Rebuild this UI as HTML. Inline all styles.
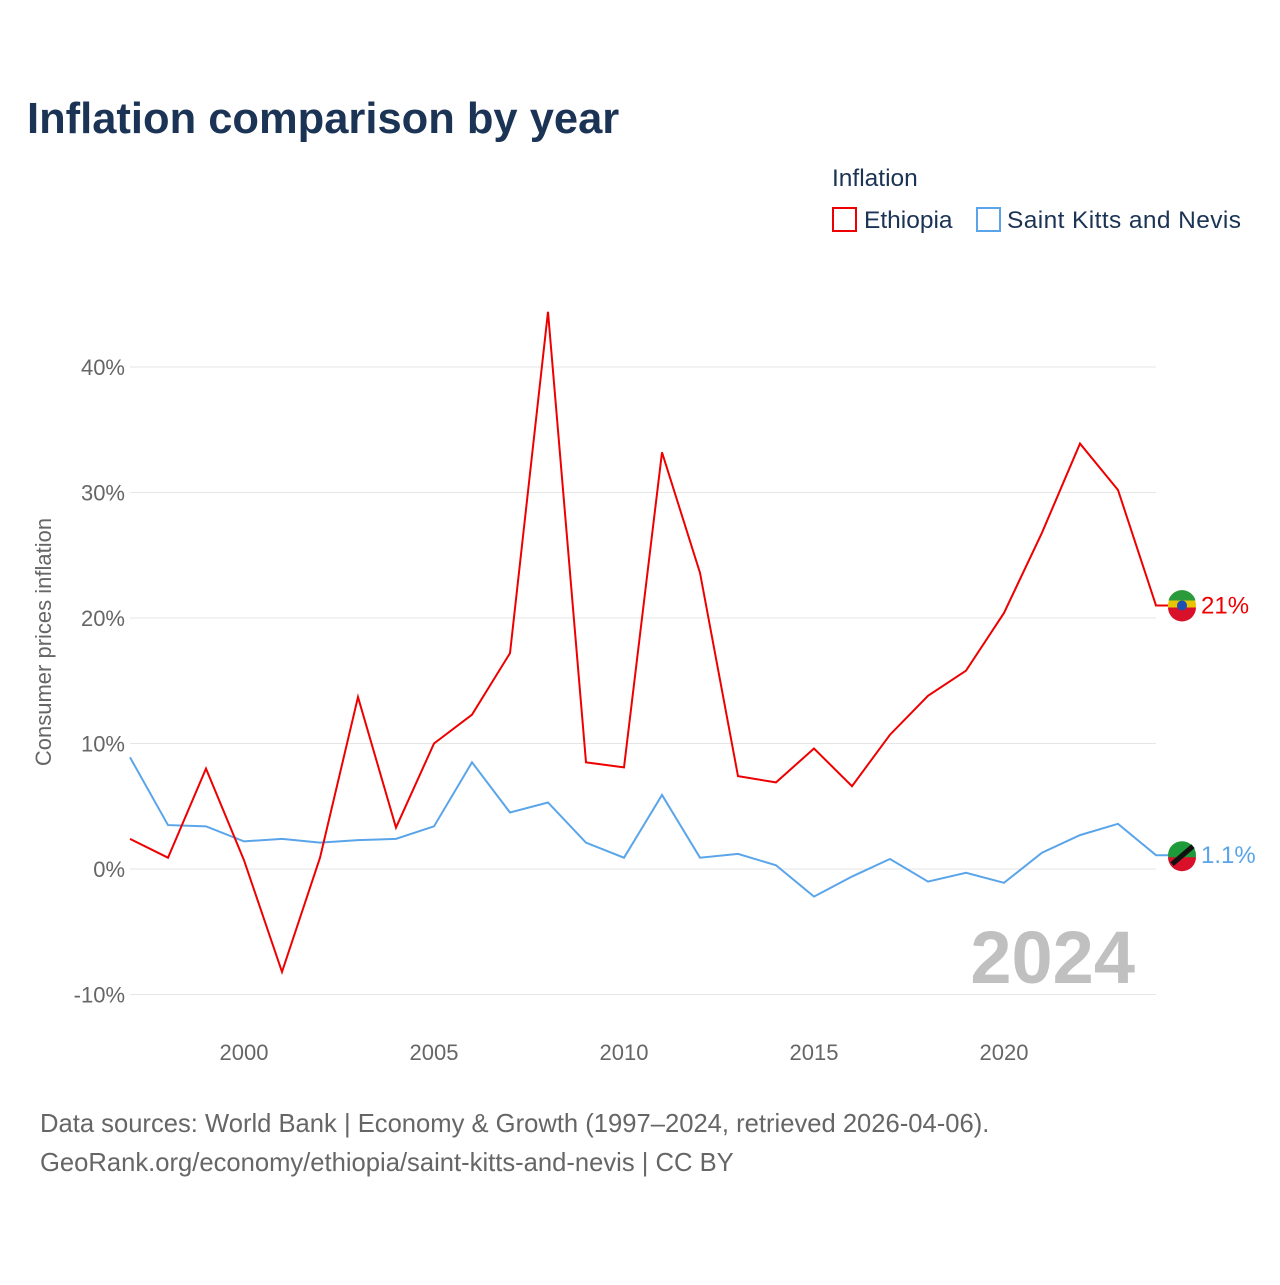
<!DOCTYPE html>
<html><head><meta charset="utf-8"><style>
body{margin:0;background:#fff;font-family:"Liberation Sans",sans-serif}
svg text{font-family:"Liberation Sans",sans-serif}
</style></head><body>
<svg id="c" width="1280" height="1280" xmlns="http://www.w3.org/2000/svg">
<text x="27" y="133" font-size="43.5" font-weight="bold" fill="#1b3354">Inflation comparison by year</text>
<text x="832" y="186" font-size="24.5" fill="#1b3354">Inflation</text>
<g><rect x="833" y="208" width="23" height="23" fill="none" stroke="#ee0000" stroke-width="2"/><text x="864" y="228" font-size="24.5" fill="#1b3354">Ethiopia</text></g>
<g><rect x="977" y="208" width="23" height="23" fill="none" stroke="#5aa5ea" stroke-width="2"/><text x="1007" y="228" font-size="24.5" fill="#1b3354" textLength="234">Saint Kitts and Nevis</text></g>
<text transform="translate(51,642) rotate(-90)" text-anchor="middle" font-size="22" fill="#666">Consumer prices inflation</text>
<g id="grid"></g><g id="xt"></g>
<text x="1135" y="983" text-anchor="end" font-size="74" font-weight="bold" fill="#c0c0c0">2024</text>
<g id="lines"></g>
<text x="40" y="1132" font-size="25.6" fill="#666">Data sources: World Bank | Economy &amp; Growth (1997–2024, retrieved 2026-04-06).</text>
<text x="40" y="1171" font-size="25.6" fill="#666">GeoRank.org/economy/ethiopia/saint-kitts-and-nevis | CC BY</text>
</svg>
<script>
const years=[1997,1998,1999,2000,2001,2002,2003,2004,2005,2006,2007,2008,2009,2010,2011,2012,2013,2014,2015,2016,2017,2018,2019,2020,2021,2022,2023,2024];
const ethiopia=[2.4,0.9,8.0,0.7,-8.2,0.9,13.7,3.3,10.0,12.3,17.2,44.4,8.5,8.1,33.2,23.6,7.4,6.9,9.6,6.6,10.7,13.8,15.8,20.4,26.8,33.9,30.2,21.0];
const skn=[8.9,3.5,3.4,2.2,2.4,2.1,2.3,2.4,3.4,8.5,4.5,5.3,2.1,0.9,5.9,0.9,1.2,0.3,-2.2,-0.6,0.8,-1.0,-0.3,-1.1,1.3,2.7,3.6,1.1];
const yTicks=[-10,0,10,20,30,40];
const xTicks=[2000,2005,2010,2015,2020];
const X=y=>130+(y-1997)*38, Y=v=>869-v*12.55;
const NS="http://www.w3.org/2000/svg";
function mk(t,a,p){const e=document.createElementNS(NS,t);for(const k in a)e.setAttribute(k,a[k]);p.appendChild(e);return e;}
const g=document.getElementById('grid');
yTicks.forEach(v=>{const l=mk('line',{x1:130,x2:1156,y1:Y(v),y2:Y(v),stroke:'#e6e6e6','stroke-width':1},g);


const t=mk('text',{x:125,y:Y(v)+8,'text-anchor':'end','font-size':22,fill:'#666'},g);t.textContent=v+'%';

});
const xt=document.getElementById('xt');
xTicks.forEach(v=>{const t=mk('text',{x:X(v),y:1060,'text-anchor':'middle','font-size':22,fill:'#666'},xt);t.textContent=v;

});
const L=document.getElementById('lines');
function series(d,c,name,lab){
const p=mk('polyline',{points:d.map((v,i)=>X(years[i])+','+Y(v)).join(' ')+' '+(X(2024)+12)+','+Y(d[d.length-1]),fill:'none',stroke:c,'stroke-width':2},L);


const cy=Y(d[d.length-1]);
const f=mk('circle',{cx:1182,cy:cy,r:14,fill:c==='#ee0000'?'#e8c500':'#1f9a3a'},L);


mk('path',{d:`M1168 ${cy+2} A14 14 0 0 0 1196 ${cy+2} Z`,fill:'#d8102a'},L);
if(c==='#ee0000'){mk('path',{d:`M1168.5 ${cy-5} A14 14 0 0 1 1195.5 ${cy-5} Z`,fill:'#2a9a3a'},L);mk('circle',{cx:1182,cy:cy,r:5,fill:'#1f4fb0'},L);}
else mk('line',{x1:1172,y1:cy+9,x2:1193,y2:cy-9,stroke:'#111','stroke-width':5},L);
const t=mk('text',{x:1201,y:cy+8,'font-size':24,fill:c},L);t.textContent=lab(d[d.length-1]);

}
series(skn,'#5aa5ea','saint-kitts',v=>v.toFixed(1)+'%');
series(ethiopia,'#ee0000','ethiopia',v=>Math.round(v)+'%');
</script>
</body></html>
